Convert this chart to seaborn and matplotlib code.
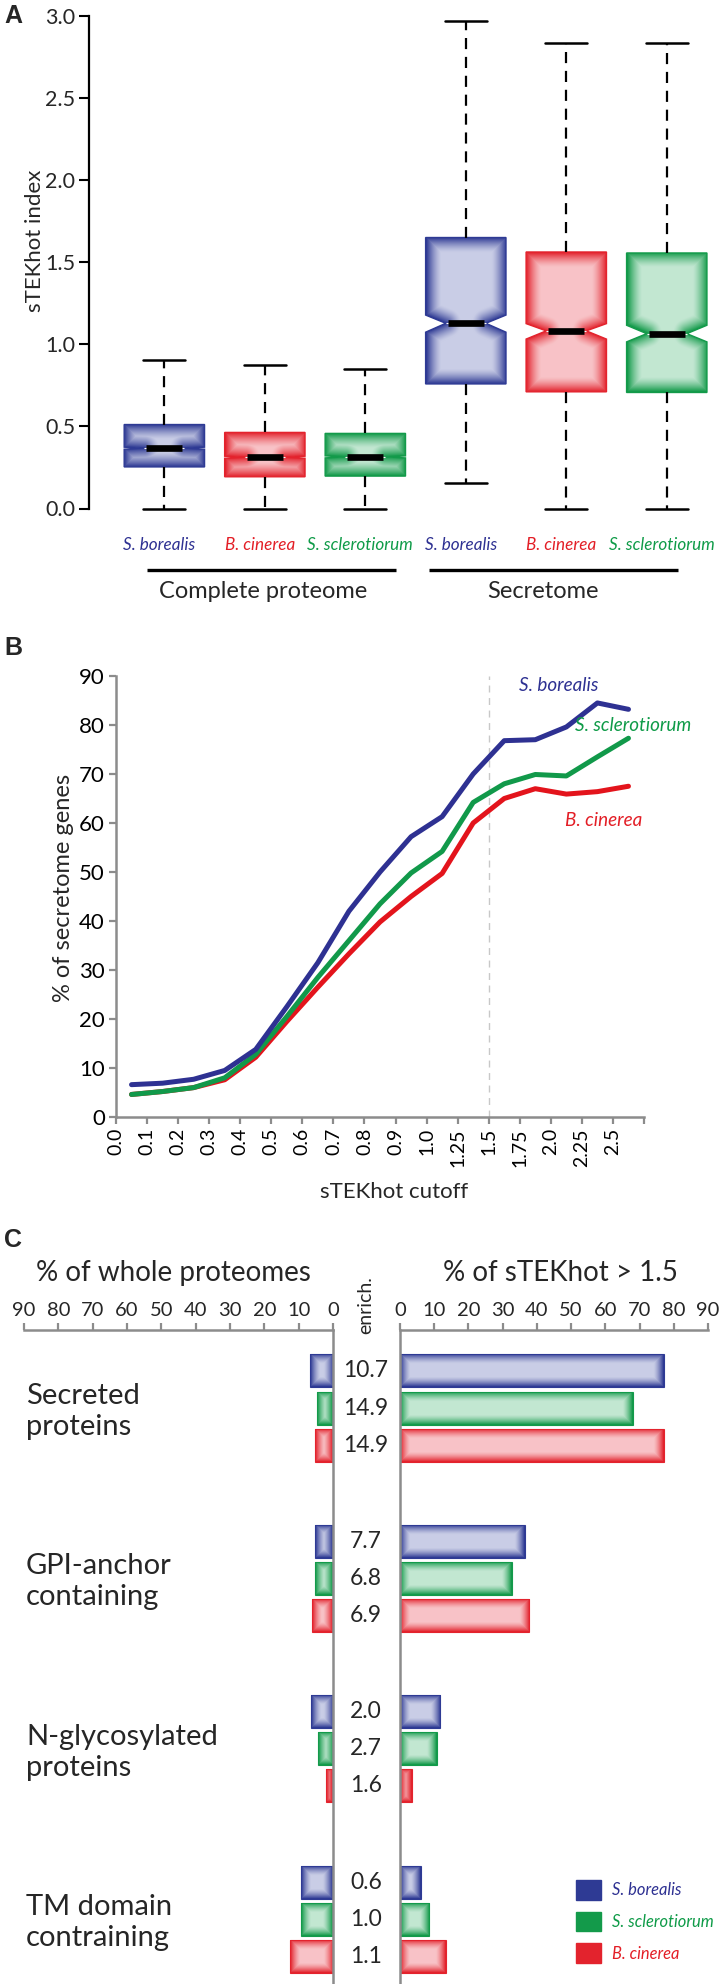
import numpy as np
import pandas as pd
import matplotlib
matplotlib.use("Agg")
import matplotlib.pyplot as plt
import matplotlib.transforms as mtransforms
from matplotlib.patches import Patch
from matplotlib.path import Path
from matplotlib.colors import to_rgb
from matplotlib import font_manager
from matplotlib.font_manager import FontProperties
import seaborn as sns

# ---------------- data ----------------
# Panel A: box statistics (order: complete proteome x3, secretome x3)
box_species = ["S. borealis", "B. cinerea", "S. sclerotiorum",
               "S. borealis", "B. cinerea", "S. sclerotiorum"]
box_groups = ["Complete proteome", "Secretome"]
box_whislo = [0.0, 0.0, 0.0, 0.153, 0.0, 0.0]
box_q1 = [0.253, 0.193, 0.197, 0.758, 0.710, 0.706]
box_med = [0.367, 0.312, 0.314, 1.127, 1.081, 1.064]
box_q3 = [0.511, 0.463, 0.457, 1.649, 1.561, 1.555]
box_whishi = [0.903, 0.872, 0.851, 2.969, 2.833, 2.833]
box_cilo = [0.361, 0.306, 0.308, 1.073, 1.031, 1.014]
box_cihi = [0.373, 0.318, 0.320, 1.177, 1.125, 1.115]

# Panel B: % of secretome genes per sTEKhot cutoff
cutoffs = ["0.0", "0.1", "0.2", "0.3", "0.4", "0.5", "0.6", "0.7", "0.8", "0.9",
           "1.0", "1.25", "1.5", "1.75", "2.0", "2.25", "2.5"]
pct_borealis = [6.6, 6.9, 7.7, 9.5, 13.8, 22.5, 31.5, 42.0, 50.0, 57.2,
                61.3, 70.0, 76.8, 77.0, 79.6, 84.5, 83.2]
pct_sclerotiorum = [4.6, 5.2, 6.0, 8.0, 12.8, 20.5, 28.5, 36.0, 43.5, 49.8,
                    54.2, 64.2, 68.0, 69.9, 69.6, 73.5, 77.3]
pct_cinerea = [4.6, 5.2, 6.0, 7.6, 12.2, 19.5, 26.5, 33.3, 39.8, 45.0,
               49.7, 60.0, 65.0, 67.0, 65.9, 66.4, 67.5]

# Panel C
c_categories = ["Secreted\nproteins", "GPI-anchor\ncontaining",
                "N-glycosylated\nproteins", "TM domain\ncontraining"]
c_species = ["S. borealis", "S. sclerotiorum", "B. cinerea"]
whole_borealis = [6.8, 5.1, 6.5, 9.2]
whole_sclerotiorum = [4.6, 5.1, 4.5, 9.2]
whole_cinerea = [5.2, 6.1, 2.0, 12.6]
high_borealis = [77.0, 36.5, 11.8, 6.1]
high_sclerotiorum = [68.0, 32.7, 10.8, 8.6]
high_cinerea = [77.0, 37.7, 3.4, 13.4]
enrich_borealis = [10.7, 7.7, 2.0, 0.6]
enrich_sclerotiorum = [14.9, 6.8, 2.7, 1.0]
enrich_cinerea = [14.9, 6.9, 1.6, 1.1]

# ---------------- style ----------------
sns.set_theme(style="white")
names = {f.name for f in font_manager.fontManager.ttflist}
main_font = "Lato" if "Lato" in names else "DejaVu Sans"
plt.rcParams["font.family"] = [main_font, "DejaVu Sans"]
if "Liberation Sans Narrow" in names:
    sp_family, sp_scale = "Liberation Sans Narrow", 1.0
else:
    sp_family, sp_scale = main_font, 0.85


def sp_prop(size):
    return FontProperties(family=[sp_family, "DejaVu Sans"], style="italic", size=size * sp_scale)


dark = {"S. borealis": "#2e3a94", "B. cinerea": "#e3232d", "S. sclerotiorum": "#139a4a"}
light = {"S. borealis": "#c9cde6", "B. cinerea": "#f8c3c7", "S. sclerotiorum": "#c3e7d2"}
txtc = {"S. borealis": "#2e3192", "B. cinerea": "#e31e26", "S. sclerotiorum": "#0f9b48"}
line_c = {"S. borealis": "#2e3192", "B. cinerea": "#e3141c", "S. sclerotiorum": "#11994a"}
grey = "#8c8c8c"

W, H = 723, 1984
fig = plt.figure(figsize=(W / 100, H / 100), dpi=100)
fig.patch.set_facecolor("white")


def rect(l, t, r, b):
    return [l / W, 1 - b / H, (r - l) / W, (b - t) / H]


def fx(px):
    return px / W


def fy(py):
    return 1 - py / H


def add_glow(ax, patch, dk, lt, edge_px, power=1.4):
    path = patch.get_path()
    verts = patch.get_transform().transform(path.vertices)
    if path.codes is not None:
        verts = verts[path.codes != Path.CLOSEPOLY]
    x0, y0 = verts.min(0)
    x1, y1 = verts.max(0)
    nx = max(int(np.ceil(x1 - x0)), 2)
    ny = max(int(np.ceil(y1 - y0)), 2)
    X, Y = np.meshgrid(np.linspace(x0, x1, nx), np.linspace(y0, y1, ny))
    d = np.full(X.shape, np.inf)
    n = len(verts)
    for k in range(n):
        a = verts[k]
        b = verts[(k + 1) % n]
        ab = b - a
        L2 = ab @ ab
        if L2 < 1e-9:
            continue
        t = np.clip(((X - a[0]) * ab[0] + (Y - a[1]) * ab[1]) / L2, 0, 1)
        d = np.minimum(d, np.hypot(X - (a[0] + t * ab[0]), Y - (a[1] + t * ab[1])))
    s = np.clip(d / edge_px, 0, 1)
    w = (1 - s) ** power
    dkc = np.array(to_rgb(dk))
    ltc = np.array(to_rgb(lt))
    img = ltc[None, None, :] * (1 - w[..., None]) + dkc[None, None, :] * w[..., None]
    inv = ax.transData.inverted()
    dx0, dy0 = inv.transform((x0, y0))
    dx1, dy1 = inv.transform((x1, y1))
    im = ax.imshow(img, extent=[dx0, dx1, dy0, dy1], origin="lower", aspect="auto",
                   interpolation="bilinear", zorder=patch.get_zorder() - 0.01)
    im.set_clip_path(patch)
    patch.set_facecolor("none")


# ---------------- Panel A ----------------
axA = fig.add_axes(rect(89, 15.5, 717, 508.5))
axA.set_facecolor("none")
posA = np.arange(len(box_med))
stats = []
for i in range(len(box_med)):
    stats.append(dict(med=box_med[i], q1=box_q1[i], q3=box_q3[i], whislo=box_whislo[i],
                      whishi=box_whishi[i], cilo=box_cilo[i], cihi=box_cihi[i],
                      fliers=[], label=box_species[i]))
bp = axA.bxp(stats, positions=posA, widths=0.8, patch_artist=True, shownotches=True,
             showfliers=False, manage_ticks=False, capwidths=0.42,
             whiskerprops=dict(color="black", linewidth=1.6, linestyle=(0, (5, 3.5))),
             capprops=dict(color="black", linewidth=1.8),
             boxprops=dict(linewidth=1.0),
             medianprops=dict(color="white", linewidth=0.8))
for art_list in bp.values():
    for a in art_list:
        a.set_clip_on(False)
axA.set_xlim(-0.75, 5.5)
axA.set_ylim(0, 3.0)
for i, box in enumerate(bp["boxes"]):
    sp = box_species[i]
    box.set_edgecolor(dark[sp])
    add_glow(axA, box, dark[sp], light[sp], edge_px=15)
axA.hlines(box_med, posA - 0.18, posA + 0.18, color="black", linewidth=4.8, zorder=5)
axA.set_xlim(-0.75, 5.5)
axA.set_ylim(0, 3.0)
axA.set_yticks(np.arange(0, 3.01, 0.5))
axA.set_yticklabels([f"{v:.1f}" for v in np.arange(0, 3.01, 0.5)])
axA.set_xticks([])
for s in ["top", "right", "bottom"]:
    axA.spines[s].set_visible(False)
axA.spines["left"].set_color("black")
axA.spines["left"].set_linewidth(1.6)
axA.tick_params(axis="y", direction="out", length=7, width=1.5, color="black",
                labelsize=15.5, pad=3, left=True)
axA.set_ylabel("sTEKhot index", fontsize=16, verticalalignment="center")
axA.yaxis.set_label_coords((35 - 89) / 628, (508.5 - 241) / 493)
trA = mtransforms.blended_transform_factory(axA.transData, axA.transAxes)
for i, sp in enumerate(box_species):
    axA.text(posA[i] - 0.05, (508.5 - 545) / 493, sp, transform=trA, ha="center", va="center",
             color=txtc[sp], fontproperties=sp_prop(14.5))
for (x0, x1), g, xc in zip([(-0.17, 2.31), (2.63, 5.11)], box_groups, [0.98, 3.77]):
    axA.plot([x0, x1], [(508.5 - 570) / 493] * 2, transform=trA, color="black",
             linewidth=2.4, clip_on=False, solid_capstyle="butt")
    axA.text(xc, (508.5 - 591) / 493, g, transform=trA, ha="center", va="center", fontsize=17)

# ---------------- Panel B ----------------
axB = fig.add_axes(rect(116, 676, 644, 1117))
axB.set_facecolor("none")
nB = len(cutoffs)
dfB = pd.DataFrame({
    "pos": np.tile(np.arange(nB), 3),
    "pct": pct_cinerea + pct_sclerotiorum + pct_borealis,
    "species": ["B. cinerea"] * nB + ["S. sclerotiorum"] * nB + ["S. borealis"] * nB,
})
sns.lineplot(data=dfB, x="pos", y="pct", hue="species",
             hue_order=["B. cinerea", "S. sclerotiorum", "S. borealis"],
             palette=line_c, linewidth=3.6, legend=False, ax=axB, errorbar=None, sort=False)
axB.axvline(11.5, color="#c8c8c8", linewidth=1.0, linestyle=(0, (5, 4)), zorder=0)
axB.set_xlim(-0.5, nB - 0.5)
axB.set_ylim(0, 90)
axB.set_xticks(np.arange(-0.5, nB, 1.0))
axB.set_xticklabels(cutoffs + [""], rotation=90)
axB.set_yticks(np.arange(0, 91, 10))
for s in ["top", "right"]:
    axB.spines[s].set_visible(False)
for s in ["left", "bottom"]:
    axB.spines[s].set_color(grey)
    axB.spines[s].set_linewidth(1.8)
axB.tick_params(axis="both", direction="out", length=5, width=1.6, color=grey,
                labelcolor="black", bottom=True, left=True)
axB.tick_params(axis="x", labelsize=14, pad=3)
axB.tick_params(axis="y", labelsize=16, pad=3)
axB.set_xlabel("sTEKhot cutoff", fontsize=16, verticalalignment="center")
axB.xaxis.set_label_coords((394 - 116) / 528, (1117 - 1192) / 441)
axB.set_ylabel("% of secretome genes", fontsize=17, verticalalignment="center")
axB.yaxis.set_label_coords((63 - 116) / 528, (1117 - 888) / 441)
axB.text(13.76, 88, "S. borealis", color=txtc["S. borealis"], ha="center", va="center",
         fontproperties=sp_prop(16))
axB.text(16.15, 79.8, "S. sclerotiorum", color=txtc["S. sclerotiorum"], ha="center", va="center",
         fontproperties=sp_prop(16))
axB.text(15.2, 60.6, "B. cinerea", color=txtc["B. cinerea"], ha="center", va="center",
         fontproperties=sp_prop(16))

# ---------------- Panel C ----------------
nC = len(c_categories)
dfC = pd.DataFrame({
    "category": c_categories * 3,
    "species": [s for s in c_species for _ in range(nC)],
    "whole": whole_borealis + whole_sclerotiorum + whole_cinerea,
    "high": high_borealis + high_sclerotiorum + high_cinerea,
    "enrich": enrich_borealis + enrich_sclerotiorum + enrich_cinerea,
})
axL = fig.add_axes(rect(24, 1330, 333, 1984))
axR = fig.add_axes(rect(400, 1330, 708, 1984))
dodge_w = 0.653
ylimC = (3.38, -0.458)
for ax, col, xl in [(axL, "whole", (90, 0)), (axR, "high", (0, 90))]:
    ax.set_facecolor("none")
    sns.barplot(data=dfC, x=col, y="category", hue="species", hue_order=c_species,
                order=c_categories, palette=dark, orient="h", width=dodge_w, gap=0.11,
                dodge=True, errorbar=None, saturation=1, legend=False, ax=ax)
    ax.set_xlim(*xl)
    ax.set_ylim(*ylimC)
    dk_to_sp = {to_rgb(dark[s]): s for s in c_species}
    for p in list(ax.patches):
        fc = tuple(np.round(p.get_facecolor()[:3], 4))
        sp = None
        for k, v in dk_to_sp.items():
            if np.allclose(k, fc, atol=1e-3):
                sp = v
        if sp is None or p.get_width() == 0:
            continue
        p.set_edgecolor(dark[sp])
        p.set_linewidth(0.8)
        add_glow(ax, p, dark[sp], light[sp], edge_px=10)
    ax.set_xlim(*xl)
    ax.set_ylim(*ylimC)
    ax.xaxis.tick_top()
    ax.set_xticks(np.arange(0, 91, 10))
    ax.set_yticks([])
    ax.set_xlabel("")
    ax.set_ylabel("")
    ax.tick_params(axis="x", direction="out", length=5, width=1.6, color=grey,
                   labelsize=14.5, pad=3, top=True, bottom=False, labeltop=True,
                   labelbottom=False)
    for s in ax.spines:
        ax.spines[s].set_visible(False)
    ax.spines["top"].set_visible(True)
    ax.spines["top"].set_color(grey)
    ax.spines["top"].set_linewidth(1.8)
axL.spines["right"].set_visible(True)
axL.spines["right"].set_color(grey)
axL.spines["right"].set_linewidth(1.8)
axR.spines["left"].set_visible(True)
axR.spines["left"].set_color(grey)
axR.spines["left"].set_linewidth(1.8)

fig.text(fx(173), fy(1273), "% of whole proteomes", ha="center", va="center", fontsize=20)
fig.text(fx(560), fy(1273), "% of sTEKhot > 1.5", ha="center", va="center", fontsize=20)
fig.text(fx(366), fy(1305), "enrich.", ha="center", va="center", rotation=90, fontsize=14)

trL = mtransforms.blended_transform_factory(fig.transFigure, axL.transData)
offs = (np.arange(3) - 1) * dodge_w / 3
for i, cat in enumerate(c_categories):
    axL.text(fx(26), i + 0.02, cat, transform=trL, ha="left", va="center", fontsize=21,
             linespacing=1.25)
for j, sp in enumerate(c_species):
    sub = dfC[dfC["species"] == sp]
    for i, val in enumerate(sub["enrich"]):
        axL.text(fx(366), i + offs[j], f"{val:.1f}", transform=trL, ha="center",
                 va="center", fontsize=16.5, clip_on=False)

handles = [Patch(facecolor=dark[s], edgecolor=dark[s]) for s in c_species]
leg_prop = sp_prop(14)
leg_fs_px = leg_prop.get_size_in_points() * 100 / 72
fig.legend(handles, c_species, loc="upper left", bbox_to_anchor=(fx(576), fy(1880)),
           frameon=False, borderpad=0, borderaxespad=0, handlelength=25 / leg_fs_px,
           handleheight=24 / leg_fs_px, handletextpad=11 / leg_fs_px,
           labelspacing=12 / leg_fs_px, prop=leg_prop,
           labelcolor=[txtc[s] for s in c_species])

# panel letters
for letter, (px, py) in {"A": (13, 16), "B": (13, 648), "C": (13, 1240)}.items():
    fig.text(fx(px), fy(py), letter, ha="center", va="center", fontsize=18,
             fontweight="bold", family=["Liberation Sans", "DejaVu Sans"])

fig.savefig("out.png", dpi=100)
